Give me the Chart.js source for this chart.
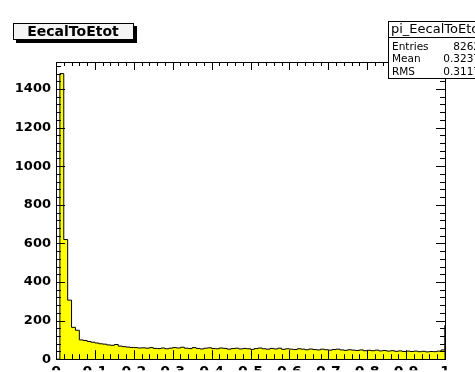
<!DOCTYPE html>
<html>
<head>
<meta charset="utf-8">
<script src="https://cdn.jsdelivr.net/npm/chart.js@4.4.1/dist/chart.umd.min.js"></script>
<style>
	html, body { margin: 0; padding: 0; background: #ffffff; }
	#wrap { width: 475px; height: 372px; }
</style>
</head>
<body>
<div id="wrap"><canvas id="histo"></canvas></div>
<script>

var HIST_NAME = "pi_EecalToEtot";
var HIST_TITLE = "EecalToEtot";
var X_LOW = 0;
var X_HIGH = 1;
var Y_MAX = 1540;

// 100 bins between X_LOW and X_HIGH
var binCounts = [
	1480, 620, 306, 165, 150, 100, 97, 92, 88, 84,
	80, 78, 74, 72, 76, 68, 65, 63, 61, 60,
	58, 59, 57, 60, 56, 55, 58, 54, 57, 60,
	58, 62, 57, 55, 60, 56, 53, 57, 59, 55,
	54, 58, 56, 52, 55, 57, 53, 56, 54, 51,
	55, 58, 54, 52, 56, 53, 57, 51, 54, 52,
	50, 54, 52, 49, 53, 50, 48, 52, 49, 47,
	50, 52, 48, 46, 49, 47, 45, 48, 44, 46,
	44, 47, 43, 45, 42, 44, 41, 43, 40, 42,
	40, 42, 39, 41, 38, 40, 39, 42, 48, 175
];

var xTickValues = [0, 0.1, 0.2, 0.3, 0.4, 0.5, 0.6, 0.7, 0.8, 0.9, 1];
var xTickLabels = ["0", "0.1", "0.2", "0.3", "0.4", "0.5", "0.6", "0.7", "0.8", "0.9", "1"];
var yTickValues = [0, 200, 400, 600, 800, 1000, 1200, 1400];
var yTickLabels = ["0", "200", "400", "600", "800", "1000", "1200", "1400"];

var statLabels = ["Entries", "Mean", "RMS"];
var statValues = ["8262", "0.3237", "0.3117"];

var FRAME_LEFT = 56, FRAME_TOP = 62, FRAME_RIGHT = 445, FRAME_BOTTOM = 361;
var Y_LABEL_FONT = { family: "DejaVu Sans", weight: "bold", size: 13 };
var X_LABEL_FONT = { family: "DejaVu Sans", weight: "bold", size: 14 };

/* build the step outline from the bin edges:
   with stepped 'before' each point's value covers the interval up to it */
var binWidth = (X_HIGH - X_LOW) / binCounts.length;
var stepPoints = [{ x: X_LOW, y: 0 }];
for (i = 0; i < binCounts.length; i++) {
	stepPoints.push({ x: X_LOW + (i + 1) * binWidth, y: binCounts[i] });
}
stepPoints.push({ x: X_HIGH, y: 0 });

function px(v) {
	return Math.round(v) + 0.5;
}

// frame with ticks on all four sides, drawn over the histogram
var frameTicks = {
	id: 'frameTicks',
	afterDatasetsDraw: function(chart) {
		var ctx = chart.ctx;
		var a = chart.chartArea;
		var xs = chart.scales.x;
		var ys = chart.scales.y;
		var v, p, len;
		ctx.save();
		ctx.strokeStyle = "#000000";
		ctx.lineWidth = 1;
		ctx.beginPath();
		for (v = 0; v <= 50; v++) {
			p = px(xs.getPixelForValue(X_LOW + v * 0.02));
			len = (v % 5 == 0) ? 9 : 5;
			ctx.moveTo(p, a.bottom); ctx.lineTo(p, a.bottom - len);
			ctx.moveTo(p, a.top); ctx.lineTo(p, a.top + len - 1);
		}
		for (v = 0; v * 40 <= Y_MAX; v++) {
			p = px(ys.getPixelForValue(v * 40));
			len = (v % 5 == 0) ? 9 : 5;
			ctx.moveTo(a.left, p); ctx.lineTo(a.left + len, p);
			ctx.moveTo(a.right, p); ctx.lineTo(a.right - len, p);
		}
		ctx.stroke();
		ctx.strokeRect(px(a.left), px(a.top), Math.round(a.right - a.left), Math.round(a.bottom - a.top));
		ctx.restore();
	}
};

// title pave and statistics box
var paves = {
	id: 'paves',
	afterDraw: function(chart) {
		var ctx = chart.ctx;
		ctx.save();
		ctx.fillStyle = "#000000";
		ctx.fillRect(16, 26, 121, 17);
		ctx.fillStyle = "#f4f4f4";
		ctx.fillRect(13, 23, 121, 17);
		ctx.strokeStyle = "#000000";
		ctx.lineWidth = 1;
		ctx.strokeRect(13.5, 23.5, 120, 16);
		ctx.fillStyle = "#000000";
		ctx.font = "bold 14px 'DejaVu Sans'";
		ctx.textAlign = "center";
		ctx.textBaseline = "middle";
		ctx.fillText(HIST_TITLE, 73, 32);

		ctx.fillStyle = "#ffffff";
		ctx.fillRect(388, 21, 100, 58);
		ctx.strokeRect(388.5, 21.5, 100, 57);
		ctx.beginPath();
		ctx.moveTo(388, 37.5); ctx.lineTo(475, 37.5);
		ctx.stroke();
		ctx.fillStyle = "#000000";
		ctx.textAlign = "left";
		ctx.font = "13px 'DejaVu Sans'";
		ctx.fillText(HIST_NAME, 391, 30);
		ctx.font = "10.5px 'DejaVu Sans'";
		for (var k = 0; k < statLabels.length; k++) {
			ctx.textAlign = "left";
			ctx.fillText(statLabels[k], 392, 47 + k * 12.5);
			ctx.textAlign = "right";
			ctx.fillText(statValues[k], 480, 47 + k * 12.5);
		}
		ctx.restore();
	}
};

var histChart = new Chart(document.getElementById("histo"), {
	type: 'line',
	data: {
		datasets: [{
			data: stepPoints,
			stepped: 'before',
			fill: 'origin',
			backgroundColor: '#ffff00',
			borderColor: '#000000',
			borderWidth: 1,
			pointRadius: 0,
			tension: 0
		}]
	},
	options: {
		responsive: true,
		maintainAspectRatio: false,
		animation: false,
		devicePixelRatio: 1,
		layout: { padding: { left: 0, top: FRAME_TOP, right: 475 - FRAME_RIGHT, bottom: 0 } },
		plugins: {
			legend: { display: false },
			tooltip: { enabled: false },
			title: { display: false }
		},
		scales: {
			x: {
				type: 'linear',
				min: X_LOW,
				max: X_HIGH,
				grid: { display: false, drawTicks: false },
				border: { display: false },
				afterBuildTicks: function(scale) {
					scale.ticks = xTickValues.map(function(v) { return { value: v }; });
				},
				afterFit: function(scale) {
					scale.height = 372 - FRAME_BOTTOM;
				},
				ticks: {
					padding: 5,
					maxRotation: 0,
					autoSkip: false,
					color: '#000000',
					font: X_LABEL_FONT,
					callback: function(value, index) { return xTickLabels[index]; }
				}
			},
			y: {
				type: 'linear',
				min: 0,
				max: Y_MAX,
				grid: { display: false, drawTicks: false },
				border: { display: false },
				afterBuildTicks: function(scale) {
					scale.ticks = yTickValues.map(function(v) { return { value: v }; });
				},
				afterFit: function(scale) {
					scale.width = FRAME_LEFT;
				},
				ticks: {
					padding: 5,
					color: '#000000',
					font: Y_LABEL_FONT,
					callback: function(value, index) { return yTickLabels[index]; }
				}
			}
		}
	},
	plugins: [frameTicks, paves]
});

</script>
</body>
</html>
